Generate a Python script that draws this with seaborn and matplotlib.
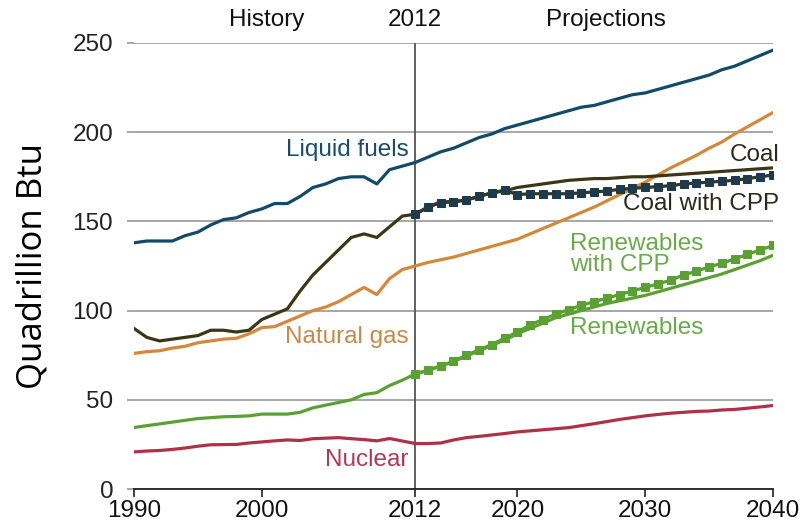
import numpy as np
import pandas as pd
import seaborn as sns
import matplotlib.pyplot as plt

# years
years_hist = list(range(1990, 2013))
years_proj = list(range(2012, 2041))

# history 1990-2012
liquids_hist = [138, 139, 139, 139, 142, 144, 148, 151, 152, 155, 157, 160, 160,
                164, 169, 171, 174, 175, 175, 171, 179, 181, 183]
coal_hist = [90, 85, 83, 84, 85, 86, 89, 89, 88, 89, 95, 98, 101,
             111, 120, 127, 134, 141, 143, 141, 147, 153, 154]
gas_hist = [76, 77, 77.5, 79, 80, 82, 83, 84, 84.5, 87, 90.5, 91, 94,
            97, 100, 102, 105, 109, 113, 109, 118, 123, 125]
renew_hist = [34.5, 35.5, 36.5, 37.5, 38.5, 39.5, 40, 40.5, 40.7, 41, 42, 42, 42,
              43, 45.5, 47, 48.5, 50, 53, 54, 58, 61, 64.5]
nuclear_hist = [20.8, 21.3, 21.6, 22.2, 23, 24, 24.8, 24.9, 25, 25.8, 26.4, 27, 27.5,
                27.2, 28.2, 28.5, 28.8, 28.2, 27.7, 27, 28.3, 26.9, 25.5]

# projections 2012-2040
liquids_proj = [183, 186, 189, 191, 194, 197, 199, 202, 204, 206, 208, 210, 212, 214, 215,
                217, 219, 221, 222, 224, 226, 228, 230, 232, 235, 237, 240, 243, 246]
coal_proj = [154, 158, 161, 161, 162, 164, 166, 167, 169, 170, 171, 172, 173, 173.5, 174,
             174, 174.5, 175, 175, 175.5, 176, 176.5, 177, 177.5, 178, 178.5, 179, 179.5, 180]
coal_cpp = [154, 158, 160.5, 161, 162, 164, 166, 167.5, 165, 165.5, 165.5, 165.5, 165.5, 166, 166.5,
            167, 168, 168.5, 169, 169.5, 170, 171, 171.5, 172, 172.5, 173, 174, 175, 176]
gas_proj = [125, 127, 128.5, 130, 132, 134, 136, 138, 140, 143, 146, 149, 152, 155, 158,
            161.5, 165, 168.5, 172, 176, 180, 183.5, 187, 191, 194.5, 199, 203, 207, 211]
renew_proj = [64.5, 66.5, 69, 71.5, 74.5, 77.5, 80.5, 83.5, 87, 90, 93, 96, 98, 100, 102,
              104, 105.5, 107, 108.5, 110.5, 112.5, 114.5, 116.5, 118.5, 120.5, 123, 125.5, 128, 131]
renew_cpp = [64.5, 66.5, 69, 71.5, 75, 78, 81, 84.5, 88, 92, 95, 98, 100.5, 103, 105,
             107, 109, 111, 113, 115, 117, 120, 122, 124.5, 126.5, 129, 131.5, 134, 136.5]
nuclear_proj = [25.5, 25.5, 25.8, 27.5, 28.8, 29.5, 30.3, 31.1, 32, 32.6, 33.2, 33.8, 34.4, 35.5, 36.6,
                37.8, 39, 40, 41, 41.8, 42.5, 43, 43.5, 43.7, 44.3, 44.6, 45.3, 46, 46.8]

xticks = [1990, 2000, 2012, 2020, 2030, 2040]
yticks = [0, 50, 100, 150, 200, 250]

c_liq = "#134a68"
c_coal = "#3b3615"
c_cpp = "#1d3b4d"
c_gas = "#d4883b"
c_ren = "#5ba033"
c_nuc = "#b03048"

sns.set_style("white")
plt.rcParams['font.family'] = ['Liberation Sans', 'DejaVu Sans']

fig = plt.figure(figsize=(8.03, 5.26), dpi=100)
ax = fig.add_axes([0.1669, 0.0703, 0.7957, 0.848])

full_years = years_hist + years_proj[1:]
lw = 2.3

for hist, proj, col in [(liquids_hist, liquids_proj, c_liq),
                        (gas_hist, gas_proj, c_gas),
                        (nuclear_hist, nuclear_proj, c_nuc),
                        (renew_hist, renew_proj, c_ren),
                        (coal_hist, coal_proj, c_coal)]:
    sns.lineplot(x=full_years, y=hist + proj[1:], color=col, lw=lw, ax=ax)

sns.lineplot(x=years_proj, y=coal_cpp, color=c_coal, lw=lw, marker='s', markersize=5.8,
             markerfacecolor=c_cpp, markeredgecolor=c_cpp, ax=ax)
sns.lineplot(x=years_proj, y=renew_cpp, color=c_ren, lw=lw, marker='s', markersize=5.8,
             markerfacecolor=c_ren, markeredgecolor=c_ren, ax=ax)

ax.axvline(2012, ymin=0, ymax=1, color="#555555", lw=1.3, zorder=1)

ax.set_xlim(1990, 2040)
ax.set_ylim(0, 250)
ax.set_xticks(xticks)
ax.set_yticks(yticks)
ax.yaxis.grid(True, color="#a6a6a6", lw=1.4)
ax.set_axisbelow(True)
for s in ['top', 'right', 'left']:
    ax.spines[s].set_visible(False)
ax.spines['bottom'].set_color('#222222')
ax.spines['bottom'].set_linewidth(1.3)
ax.tick_params(axis='x', direction='out', length=6, width=1.2, color='#222222',
               labelsize=17.5, labelcolor='#111111', pad=2, bottom=True)
ax.tick_params(axis='y', direction='out', length=5, width=1.2, color='#999999',
               labelsize=17.5, labelcolor='#222222', pad=10, left=True)
ax.set_xlabel("")
ax.set_ylabel("")

fig.text(0.04, 0.494, "Quadrillion Btu", rotation=90, ha='center', va='center',
         fontsize=25, family='Open Sans', color='black')

# header labels
ax.text(2000.4, 263, "History", ha='center', va='center', fontsize=17.5, color='#111111', clip_on=False)
ax.text(2012, 263, "2012", ha='center', va='center', fontsize=17.5, color='#111111', clip_on=False)
ax.text(2026.9, 263, "Projections", ha='center', va='center', fontsize=17.5, color='#111111', clip_on=False)

# series labels
ax.text(2011.5, 190, "Liquid fuels", ha='right', va='center', fontsize=17.5, color="#1b4b68")
ax.text(2011.5, 85, "Natural gas", ha='right', va='center', fontsize=17.5, color="#c8894a")
ax.text(2011.5, 16.5, "Nuclear", ha='right', va='center', fontsize=17.5, color="#b03a55")
ax.text(2040.5, 187, "Coal", ha='right', va='center', fontsize=17.5, color="#2b2a1c")
ax.text(2040.5, 160, "Coal with CPP", ha='right', va='center', fontsize=17.5, color="#2b2a1c")
ax.text(2024.1, 131.5, "Renewables\nwith CPP", ha='left', va='center', fontsize=17.5,
        color="#6aaa4a", linespacing=0.95)
ax.text(2024.1, 90.3, "Renewables", ha='left', va='center', fontsize=17.5, color="#6aaa4a")

fig.savefig("out.png", dpi=100)
